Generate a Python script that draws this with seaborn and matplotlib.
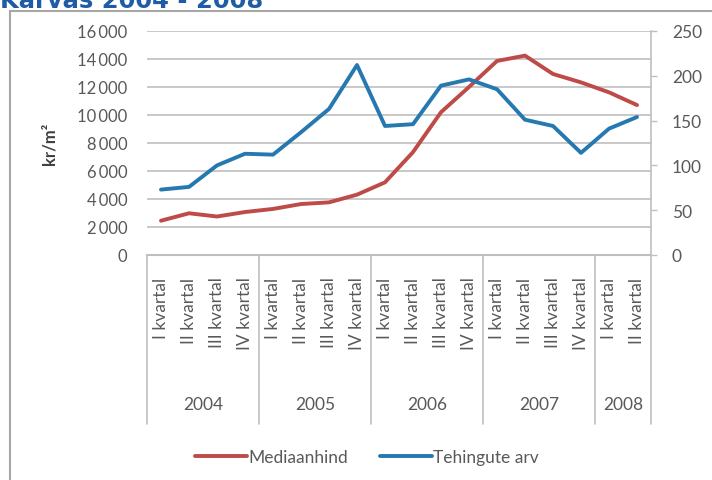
import matplotlib
matplotlib.use("Agg")
import matplotlib.pyplot as plt
import matplotlib.patches as mpatches
import matplotlib.transforms as mtransforms
from matplotlib.lines import Line2D
import seaborn as sns
import pandas as pd

years = ["2004", "2005", "2006", "2007", "2008"]
quarters_per_year = [4, 4, 4, 4, 2]
quarter_names = ["I kvartal", "II kvartal", "III kvartal", "IV kvartal"]
mediaanhind = [2450, 2980, 2750, 3070, 3290, 3640, 3760, 4310, 5190, 7350,
               10200, 12000, 13860, 14240, 12930, 12330, 11620, 10710]
tehingute_arv = [73, 76, 100, 113, 112, 137, 163, 212, 144, 146,
                 189, 196, 185, 151, 144, 114, 141, 154]
left_ticks = [0, 2000, 4000, 6000, 8000, 10000, 12000, 14000, 16000]
right_ticks = [0, 50, 100, 150, 200, 250]

labels = []
for n in quarters_per_year:
    labels += quarter_names[:n]
df = pd.DataFrame({"pos": range(len(labels)), "Mediaanhind": mediaanhind,
                   "Tehingute arv": tehingute_arv})

sns.set_theme(style="white")
plt.rcParams["font.family"] = ["Lato", "DejaVu Sans"]
RED = "#BE4B48"
BLUE = "#2579B0"
GRID = "#BFBFBF"
TXT = "#595959"

fig = plt.figure(figsize=(7.12, 4.81), dpi=100)
fig.patch.set_facecolor("white")
ax = fig.add_axes([147/712, 1-256/481, (651-147)/712, 224/481])
ax2 = ax.twinx()

# frame of chart area
fig.patches.append(mpatches.Rectangle((10/712, -0.2), 1.2, 1-12/481+0.2,
                                      transform=fig.transFigure, fill=False,
                                      edgecolor="#A6A6A6", lw=1.5, zorder=0))
fig.text(0.0, 1-8/481, "Karvas 2004 - 2008", color="#1F5CA8", fontsize=17.5,
         fontweight="bold", va="baseline", ha="left", family="DejaVu Sans")

sns.lineplot(data=df, x="pos", y="Mediaanhind", ax=ax, color=RED, lw=2.8, zorder=3)
sns.lineplot(data=df, x="pos", y="Tehingute arv", ax=ax2, color=BLUE, lw=2.8, zorder=3)

ax.set_xlim(-0.5, len(labels) - 0.5)
ax.set_ylim(0, 16000)
ax2.set_ylim(0, 250)
ax.set_yticks(left_ticks)
ax.set_yticklabels([f"{v:,}".replace(",", "\u2009") if v else "0" for v in left_ticks])
ax2.set_yticks(right_ticks)
ax.yaxis.grid(True, color=GRID, lw=1.2)
ax.set_axisbelow(True)
ax.tick_params(axis="y", length=0, pad=14, labelsize=12, labelcolor=TXT)
ax2.tick_params(axis="y", length=4, width=1, color=GRID, pad=11, labelsize=12.5, labelcolor=TXT, direction="out")
ax.set_xticks(range(len(labels)))
ax.set_xticklabels(labels, rotation=90, va="top", ha="center")
ax.tick_params(axis="x", length=0, pad=15.5, labelsize=12.5, labelcolor=TXT)
ax.set_xlabel("")
ax.set_ylabel("kr/m²", fontsize=12, fontweight="bold", color="#404040", labelpad=14)
ax2.set_ylabel("")
for a in (ax, ax2):
    for s in ("top", "left"):
        a.spines[s].set_visible(False)
    a.spines["bottom"].set_color(GRID)
    a.spines["bottom"].set_linewidth(1.5)
    a.spines["right"].set_color(GRID)
    a.spines["right"].set_linewidth(1.2)
ax.spines["right"].set_visible(False)
ax2.spines["bottom"].set_visible(False)

# year separators and labels
trans = mtransforms.blended_transform_factory(ax.transData, ax.transAxes)
bottom = -(425-256)/224
start = -0.5
bounds = [start]
for y, n in zip(years, quarters_per_year):
    end = start + n
    ax.text((start + end) / 2, -(405-256)/224, y, transform=trans, ha="center",
            va="center", fontsize=12.5, color=TXT)
    start = end
    bounds.append(end)
for b in bounds:
    ax.add_line(Line2D([b, b], [0, bottom], transform=trans, color=GRID, lw=1.2,
                       clip_on=False))

handles = [Line2D([], [], color=RED, lw=2.8), Line2D([], [], color=BLUE, lw=2.8)]
fig.legend(handles, ["Mediaanhind", "Tehingute arv"], loc="center",
           bbox_to_anchor=(367/712, 1-458/481), ncol=2, frameon=False,
           fontsize=12.5, handlelength=3, handletextpad=0.1, columnspacing=1.8,
           labelcolor=TXT)

fig.savefig("out.png", dpi=100)
